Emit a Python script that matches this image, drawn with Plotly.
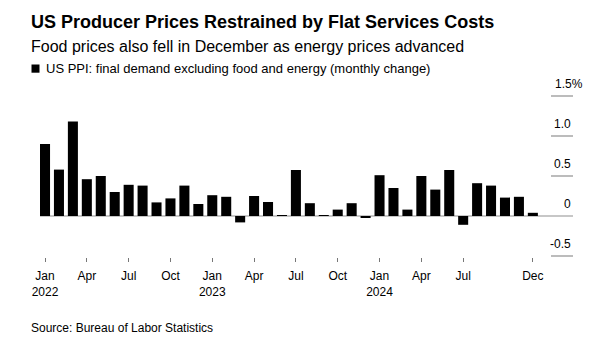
import plotly.graph_objects as go

# ---- data ----
months = ["Jan", "Feb", "Mar", "Apr", "May", "Jun", "Jul", "Aug", "Sep", "Oct", "Nov", "Dec"]
years = [2022, 2023, 2024]
values_2022 = [0.90, 0.58, 1.18, 0.46, 0.50, 0.30, 0.39, 0.38, 0.17, 0.22, 0.38, 0.15]
values_2023 = [0.26, 0.24, -0.08, 0.25, 0.175, 0.01, 0.575, 0.16, 0.01, 0.08, 0.16, -0.02]
values_2024 = [0.51, 0.35, 0.08, 0.50, 0.33, 0.575, -0.11, 0.41, 0.38, 0.23, 0.24, 0.04]
tick_months = [("Jan", 2022), ("Apr", 2022), ("Jul", 2022), ("Oct", 2022),
               ("Jan", 2023), ("Apr", 2023), ("Jul", 2023), ("Oct", 2023),
               ("Jan", 2024), ("Apr", 2024), ("Jul", 2024), ("Dec", 2024)]
y_ticks = [-0.5, 0, 0.5, 1.0, 1.5]
y_tick_labels = ["-0.5", "0", "0.5", "1.0", "1.5%"]

title = "US Producer Prices Restrained by Flat Services Costs"
subtitle = "Food prices also fell in December as energy prices advanced"
series_name = "US PPI: final demand excluding food and energy (monthly change)"
source = "Source: Bureau of Labor Statistics"

# ---- build ----
labels = [f"{m} {y}" for y in years for m in months]
values = values_2022 + values_2023 + values_2024
xidx = list(range(len(labels)))

tickvals = [labels.index(f"{m} {y}") for m, y in tick_months]
ticktext = [f"{m}<br>{y}" if m == "Jan" else m for m, y in tick_months]

W, H = 605, 341
L, R, T, B = 40, 573, 92, 257
FONT = "Liberation Sans, Arial, Helvetica, sans-serif"


def px(x):
    return (x - L) / (R - L)


def py(y):
    return (B - y) / (B - T)


fig = go.Figure()
fig.add_trace(go.Bar(
    x=xidx, y=values, name=series_name,
    marker=dict(color="#000000", line=dict(width=0)),
    hovertext=labels,
))

shapes = []
# zero baseline across plot
shapes.append(dict(type="line", xref="paper", yref="y", x0=0, x1=1, y0=0, y1=0,
                   line=dict(color="#8f8f8f", width=1.2), layer="below"))
# short gridlines on right
for v in y_ticks:
    if v == 0:
        continue
    shapes.append(dict(type="line", xref="paper", yref="y", x0=px(551), x1=1, y0=v, y1=v,
                       line=dict(color="#8f8f8f", width=1.2), layer="below"))
# legend square
shapes.append(dict(type="rect", xref="paper", yref="paper",
                   x0=px(31.5), x1=px(39.5), y0=py(72.7), y1=py(64.5),
                   fillcolor="#000000", line=dict(width=0)))

annotations = []
for v, t in zip(y_ticks, y_tick_labels):
    annotations.append(dict(xref="paper", yref="y", x=1, y=v, text=t, showarrow=False,
                            xanchor="right", yanchor="middle", yshift=12.5,
                            xshift=12 if t.endswith("%") else 0,
                            font=dict(family=FONT, size=12, color="#000000")))

annotations += [
    dict(xref="paper", yref="paper", x=px(28.5), y=py(22), text=f"<b>{title}</b>",
         showarrow=False, xanchor="left", yanchor="middle",
         font=dict(family=FONT, size=18, color="#000000")),
    dict(xref="paper", yref="paper", x=px(29), y=py(46), text=subtitle,
         showarrow=False, xanchor="left", yanchor="middle",
         font=dict(family=FONT, size=16, color="#000000")),
    dict(xref="paper", yref="paper", x=px(44), y=py(68.5), text=series_name,
         showarrow=False, xanchor="left", yanchor="middle",
         font=dict(family=FONT, size=13, color="#000000")),
    dict(xref="paper", yref="paper", x=px(28.5), y=py(327.5), text=source,
         showarrow=False, xanchor="left", yanchor="middle",
         font=dict(family=FONT, size=12, color="#000000")),
]

fig.update_layout(
    width=W, height=H,
    margin=dict(l=L, r=W - R, t=T, b=H - B, pad=0),
    paper_bgcolor="#ffffff", plot_bgcolor="#ffffff",
    showlegend=False,
    bargap=0.28,
    font=dict(family=FONT, size=12, color="#000000"),
    xaxis=dict(range=[-0.36, 37.88], tickmode="array", tickvals=tickvals, ticktext=ticktext,
               ticks="outside", ticklen=4, tickwidth=1, tickcolor="#777777",
               ticklabelstandoff=4,
               showgrid=False, zeroline=False, showline=False,
               tickfont=dict(family=FONT, size=12, color="#000000")),
    yaxis=dict(range=[-0.5125, 1.55], showgrid=False, zeroline=False, showline=False,
               showticklabels=False, ticks=""),
    shapes=shapes, annotations=annotations,
)

fig.write_html("out.html")
